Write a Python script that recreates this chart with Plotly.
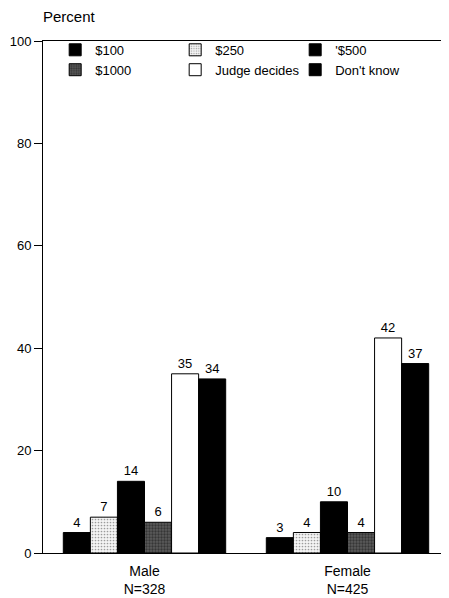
import plotly.graph_objects as go

categories = ["Male<br>N=328", "Female<br>N=425"]
series_names = ["$100", "$250", "'$500", "$1000", "Judge decides", "Don't know"]
v100 = [4, 3]
v250 = [7, 4]
v500 = [14, 10]
v1000 = [6, 4]
judge = [35, 42]
dontknow = [34, 37]
y_ticks = [0, 20, 40, 60, 80, 100]

series_values = [v100, v250, v500, v1000, judge, dontknow]
styles = [
    dict(color="black"),
    dict(color="#f4f4f4", pattern=dict(shape=".", fgcolor="#444", size=3, solidity=0.25)),
    dict(color="black"),
    dict(color="#5a5a5a", pattern=dict(shape=".", fgcolor="#111", size=3, solidity=0.45)),
    dict(color="white"),
    dict(color="black"),
]

FONT = "Liberation Sans, Arial, Helvetica, sans-serif"

fig = go.Figure()
for name, vals, st in zip(series_names, series_values, styles):
    marker = dict(color=st["color"], line=dict(color="black", width=1))
    if "pattern" in st:
        marker["pattern"] = st["pattern"]
    fig.add_trace(go.Bar(
        x=categories, y=vals, name=name, marker=marker,
        text=[str(v) for v in vals], textposition="outside",
        textfont=dict(size=13, color="black", family=FONT),
        cliponaxis=False,
    ))

fig.update_layout(
    width=441, height=590,
    margin=dict(l=35, r=0, t=33, b=45),
    paper_bgcolor="white", plot_bgcolor="white",
    font=dict(family=FONT, size=12, color="black"),
    barmode="group", bargap=0.2, bargroupgap=0,
    showlegend=True,
    legend=dict(
        orientation="h", x=0.03, xanchor="left", y=1.012, yanchor="top",
        entrywidth=75, entrywidthmode="pixels",
        font=dict(size=13, family=FONT, color="black"),
        bgcolor="rgba(0,0,0,0)", traceorder="normal",
    ),
    annotations=[dict(
        text="Percent", xref="paper", yref="paper", x=0, y=1, xshift=-2, yshift=25,
        xanchor="left", yanchor="middle", showarrow=False,
        font=dict(size=15, family=FONT, color="black"),
    )],
    xaxis=dict(
        showline=True, linecolor="black", linewidth=1, mirror=True,
        ticks="", showgrid=False, zeroline=False, ticklabelstandoff=5,
        tickfont=dict(size=14, family=FONT),
    ),
    yaxis=dict(
        range=[0, 100], tickvals=y_ticks, showline=True, linecolor="black", linewidth=1,
        ticks="outside", ticklen=8, tickcolor="black", showgrid=False, zeroline=False,
        tickfont=dict(size=13, family=FONT),
    ),
)

fig.write_html("out.html")
